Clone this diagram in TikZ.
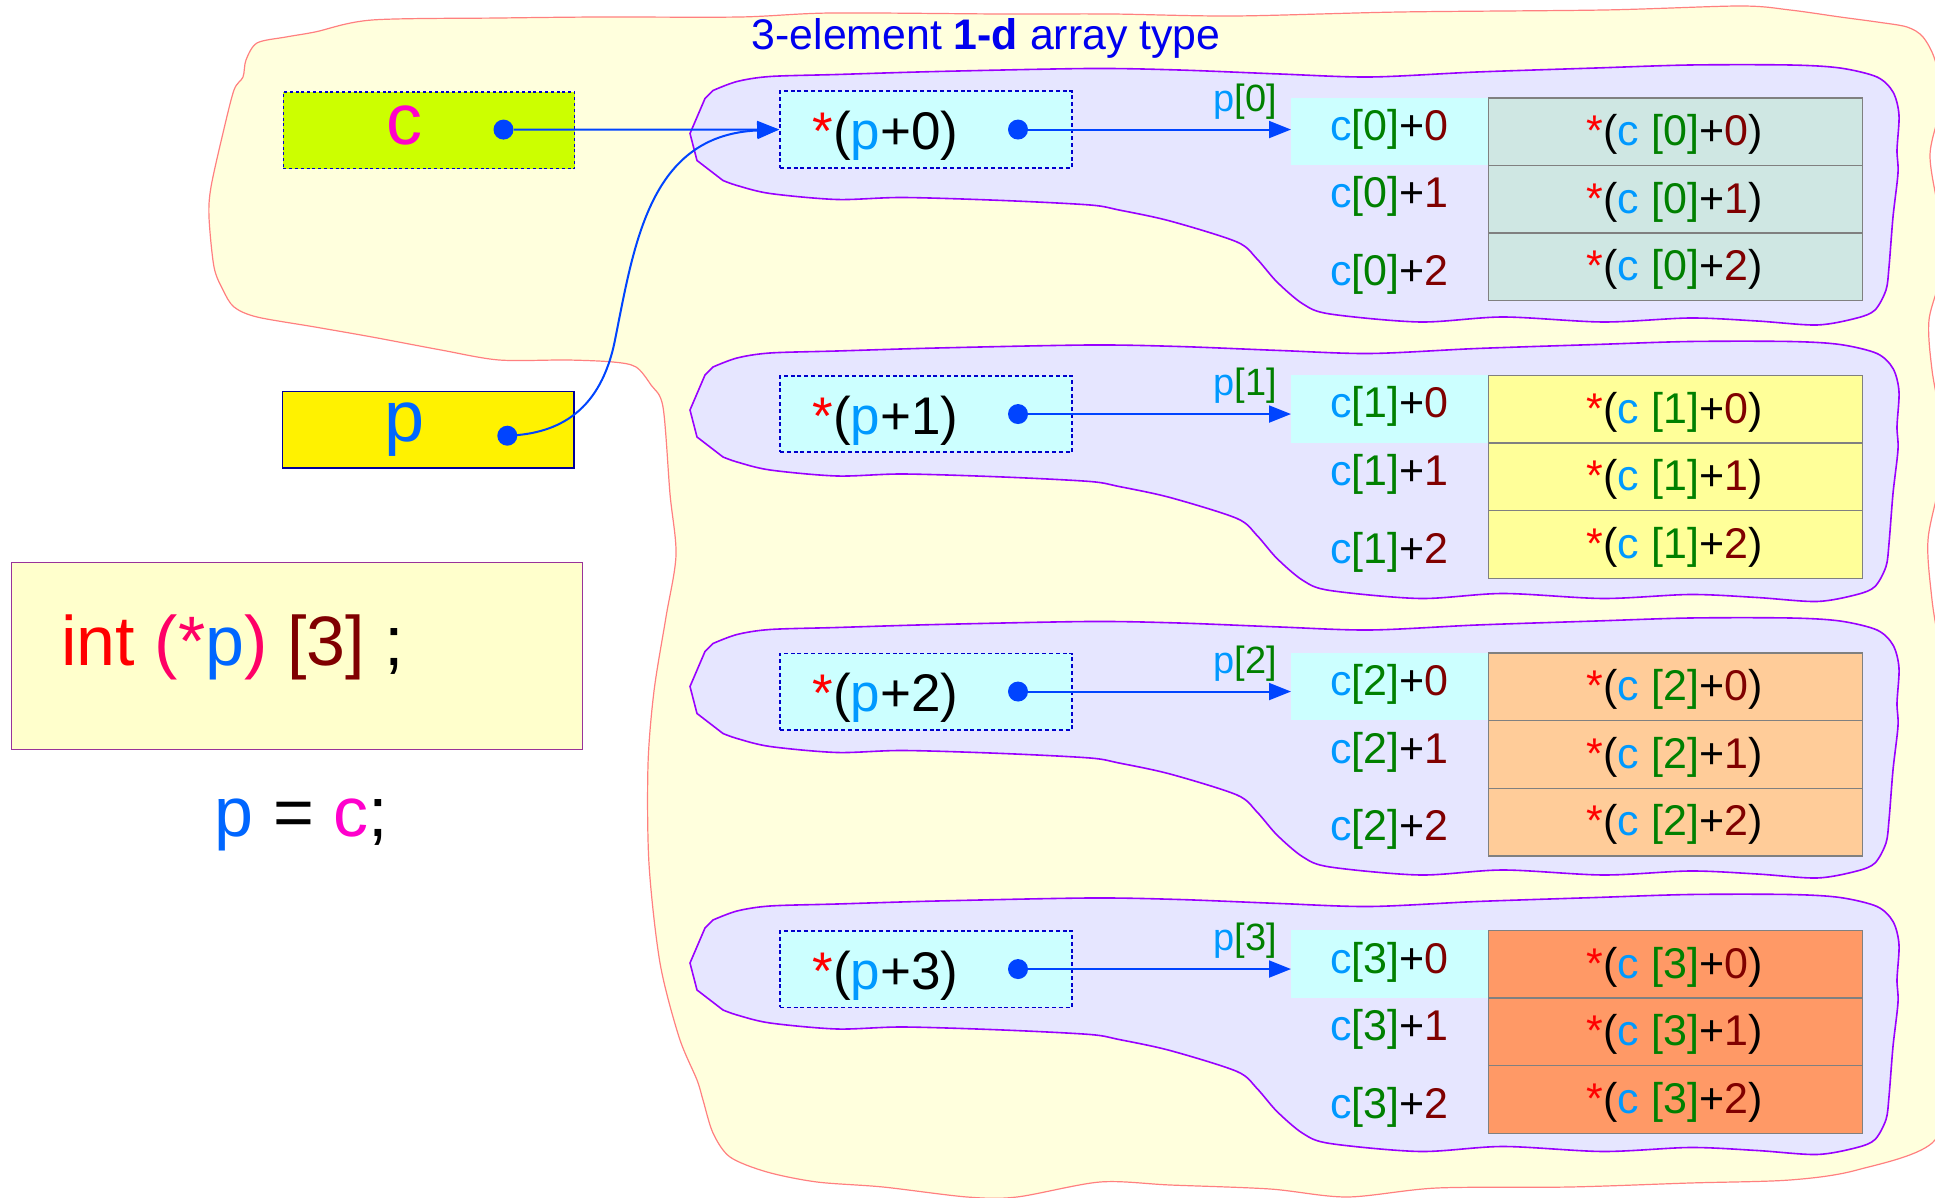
\documentclass[tikz,border=0pt]{standalone}
\usepackage{fontspec}
\setmainfont{Liberation Sans}
\usetikzlibrary{arrows.meta}
\definecolor{lblue}{HTML}{0099FF}
\definecolor{dgreen}{HTML}{008000}
\definecolor{dred}{HTML}{800000}
\definecolor{pblue}{HTML}{0066FF}
\definecolor{dotblue}{HTML}{0044FF}
\definecolor{mag}{HTML}{FF00CC}
\definecolor{pinkred}{HTML}{FF0066}
\definecolor{ttlblue}{HTML}{0000EE}
\definecolor{yelfill}{HTML}{FFFFDD}
\definecolor{yeledge}{HTML}{FF8080}
\definecolor{purfill}{HTML}{E6E6FF}
\definecolor{puredge}{HTML}{9900FF}
\definecolor{cyanf}{HTML}{CCFFFF}
\definecolor{cboxf}{HTML}{CCFF00}
\definecolor{cell0}{HTML}{CFE7E3}
\definecolor{cell1}{HTML}{FFFF99}
\definecolor{cell2}{HTML}{FFCC99}
\definecolor{cell3}{HTML}{FF9966}
\definecolor{intf}{HTML}{FFFFCC}
\definecolor{intedge}{HTML}{993399}
\definecolor{cellgray}{HTML}{808080}
\definecolor{boxblue}{HTML}{0000CC}
\definecolor{pnavy}{HTML}{000099}
\newcommand{\mfTitle}{\fontsize{21.4pt}{25pt}\selectfont}
\newcommand{\mfLab}{\fontsize{36pt}{40pt}\selectfont}
\newcommand{\mfPtr}{\fontsize{26.5pt}{30pt}\selectfont}
\newcommand{\mfPk}{\fontsize{19pt}{22pt}\selectfont}
\newcommand{\mfCell}{\fontsize{21.5pt}{25pt}\selectfont}
\newcommand{\mfDecl}{\fontsize{35pt}{40pt}\selectfont}
\begin{document}
\begin{tikzpicture}[x=0.5pt,y=-0.5pt,
  blob/.style={fill=yelfill,draw=yeledge,line width=0.6pt},
  grp/.style={fill=purfill,draw=puredge,line width=0.8pt,line join=round},
  cellbox/.style={draw=cellgray,line width=0.7pt,minimum width=187pt,minimum height=33.8pt,inner sep=0pt,anchor=north west},
  ptrbox/.style={fill=cyanf,draw=boxblue,line width=0.8pt,dash pattern=on 2pt off 1.4pt,minimum width=146pt,minimum height=38.25pt,inner sep=0pt},
  hl/.style={fill=cyanf,minimum width=98.35pt,minimum height=33.8pt,inner sep=0pt,anchor=north west},
  ptr/.style={draw=dotblue,line width=1pt,-{Triangle[length=11pt,width=8.5pt]}},
  dotn/.style={circle,fill=dotblue,inner sep=0pt,minimum size=10pt},
  txt/.style={inner sep=0pt,anchor=base},
]
\useasboundingbox (0,0) rectangle (1935,1198);
% big yellow blob
\draw[blob] plot[smooth cycle,tension=0.5] coordinates {
 (315,32) (372,20) (500,18) (600,17) (740,17) (831,13) (1000,14) (1111,14) (1234,16) (1400,12) (1604,10) (1740,6) (1790,10) (1840,17) (1877,22) (1907,27) (1923,37) (1935,60) (1942,100) (1930,155) (1940,220) (1942,270) (1929,320) (1932,370) (1942,430) (1940,480) (1928,540) (1932,600) (1945,700) (1946,900) (1944,1060) (1935,1140) (1857,1170) (1790,1180) (1690,1183) (1570,1187) (1437,1188) (1347,1197) (1270,1189) (1170,1185) (1100,1182) (1017,1197) (967,1197) (883,1187) (817,1182) (767,1172) (730,1157) (713,1133) (703,1100) (697,1080) (679,1037) (660,963) (649,864) (648,765) (654,691) (666,617) (676,555) (670,494) (663,407) (651,385) (636,367) (613,362) (567,360) (499,360) (441,350) (372,337) (315,327) (257,317) (234,307) (223,290) (214,267) (209,217) (211,187) (223,133) (234,90) (243,77) (246,60) (257,43) (286,37)};
% purple group blobs
\foreach \k in {0,1,2,3}{
 \begin{scope}[shift={(0,276.5*\k)}]
 \draw[grp] (697,160.5) -- (690,133.5) -- (705,98.5) -- plot[smooth,tension=0.5] coordinates {
 (713,90.5) (737,81.5) (770,76.5) (837,74.5) (937,71.5) (1090,68.5) (1179,70) (1280,74) (1370,77) (1477,72) (1596,68) (1690,65) (1790,65) (1840,68) (1877,77) (1893,92) (1899,115) (1897,150) (1898,173) (1893,217) (1889,267) (1886,290) (1875,310) (1857,318) (1817,325) (1757,321) (1690,318) (1603,322) (1503,317) (1420,322) (1330,314) (1303,304) (1277,282) (1257,259) (1237,242) (1170,221) (1119,210) (1090,205) (1003,200.5) (903,197.5) (837,199.5) (770,193.5) (737,185.5) (723,180.5)} -- cycle;
 \end{scope}
}
% title
\node[txt,font=\mfTitle,text=ttlblue] (title) at (986,50) {3-element \textbf{1-d} array type};
% groups
\foreach \k/\cf in {0/cell0,1/cell1,2/cell2,3/cell3}{
 \pgfmathsetmacro\T{97.3+277.5*\k}
 \node[hl] (hl\k) at (1291,\T) {};
 \foreach \j/\lo in {0/43.2,1/110.7,2/188.2}{
  \pgfmathsetmacro\R{\T+67.6*\j}
  \pgfmathsetmacro\Rb{\R+48.4}
  \pgfmathsetmacro\Lb{\T+\lo}
  \node[cellbox,fill=\cf] (cell\k\j) at (1487.7,\R) {};
  \node[txt,font=\mfCell] (ct\k\j) at (1674.7,\Rb) {{\color{red}*}({\color{lblue}c} {\color{dgreen}[\k]}+{\color{dred}\j})};
  \node[txt,font=\mfCell] (cl\k\j) at (1389.5,\Lb) {{\color{lblue}c}{\color{dgreen}[\k]}+{\color{dred}\j}};
 }
 \pgfmathsetmacro\B{\T+1-7*(\k==0)}
 \pgfmathsetmacro\C{\B+38.25}
 \pgfmathsetmacro\Bl{\B+58.5}
 \pgfmathsetmacro\Pl{\C-18.5}
 \node[ptrbox] (pb\k) at (926,\C) {};
 \node[txt,anchor=base west,font=\mfPtr] (pt\k) at (812,\Bl) {{\color{red}*}({\color{lblue}p}+\k)};
 \node[dotn] (pd\k) at (1018,\C) {};
 \draw[ptr] (pd\k.east) -- (pd\k -| hl\k.west);
 \node[txt,font=\mfPk] (pl\k) at (1245,\Pl) {{\color{lblue}p}{\color{dgreen}[\k]}};
}
% c box
\node[fill=cboxf,draw=boxblue,line width=0.8pt,dash pattern=on 1.5pt off 1.4pt,minimum width=145.6pt,minimum height=38.25pt,inner sep=0pt,anchor=north west] (cbox) at (282.6,91.3) {};
\node[txt,font=\mfLab,text=mag] (clab) at (404,145) {c};
\node[dotn] (cdot) at (503.5,129.6) {};
\draw[ptr] (cdot.east) -- (pb0.west);
% p box
\node[fill=yellow,draw=pnavy,line width=0.8pt,minimum width=145.8pt,minimum height=38.3pt,inner sep=0pt,anchor=north west] (pbox) at (281.7,390.7) {};
\node[txt,font=\mfLab,text=pblue] (plab) at (405,442) {p};
\node[dotn] (pdot) at (507.3,435.7) {};
\draw[ptr] (pdot.center) .. controls (560,434) and (601,410) .. (615,340) .. controls (634.6,242) and (650,135) .. (pb0.west);
% declaration box
\node[fill=intf,draw=intedge,line width=0.6pt,minimum width=285.5pt,minimum height=93.75pt,inner sep=0pt,anchor=north west] (intbox) at (11,561.5) {};
\node[txt,anchor=base west,font=\mfDecl] (decl) at (61,665) {{\color{red}int} {\color{pinkred}(*}{\color{pblue}p}{\color{pinkred})} {\color{dred}[3]} ;};
\node[txt,font=\mfDecl] (assign) at (301.5,836) {{\color{pblue}p} = {\color{mag}c};};
\end{tikzpicture}
\end{document}
